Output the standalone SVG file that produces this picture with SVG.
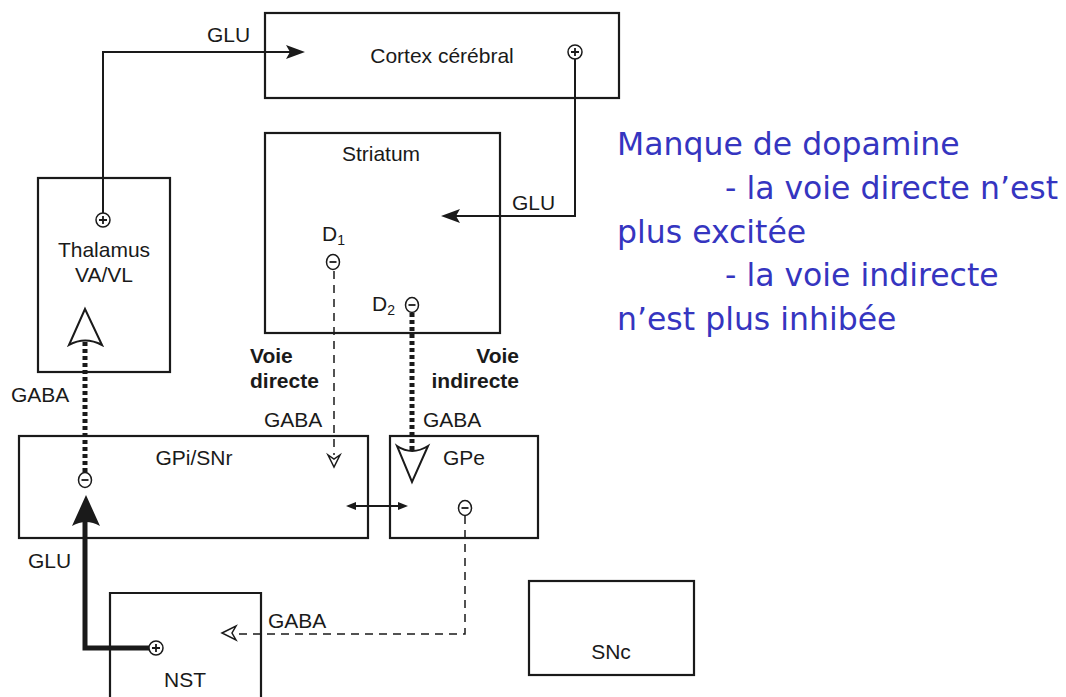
<svg xmlns="http://www.w3.org/2000/svg" width="1066" height="697" viewBox="0 0 1066 697">
<style>
.box{fill:none;stroke:#1a1a1a;stroke-width:2.2}
.lbl{font-family:"Liberation Sans",Arial,sans-serif;font-size:21px;fill:#1a1a1a}
.b{font-weight:bold}
.sub{font-size:14px}
.sym{fill:#fff;stroke:#1a1a1a;stroke-width:1.5}
.sg{stroke:#1a1a1a;stroke-width:1.8;fill:none}
.ln{fill:none;stroke:#1a1a1a;stroke-width:2}
.thin{fill:none;stroke:#1a1a1a;stroke-width:1.5;stroke-dasharray:8 6}
.thick{fill:none;stroke:#1a1a1a;stroke-width:5;stroke-dasharray:4 3}
.blue{font-family:"DejaVu Sans",Verdana,sans-serif;font-size:31.5px;fill:#3535c0}
</style>
<defs>
<g id="plus"><circle r="7" class="sym"/><path d="M-4,0H4M0,-4V4" class="sg"/></g>
<g id="minus"><ellipse rx="6.5" ry="7.5" class="sym"/><path d="M-3.5,0H3.5" class="sg" stroke-width="2.2"/></g>
</defs>
<rect width="1066" height="697" fill="#fff"/>

<g id="connectors">
  <!-- Thalamus -> Cortex GLU -->
  <path class="ln" d="M103,213V52H290"/>
  <polygon points="305,52 286,45 290,52 286,59" fill="#1a1a1a"/>
  <text class="lbl" x="207" y="42">GLU</text>
  <!-- Cortex -> Striatum GLU -->
  <path class="ln" d="M575,59V216H456"/>
  <polygon points="441,216 460,209 456,216 460,223" fill="#1a1a1a"/>
  <text class="lbl" x="512" y="210">GLU</text>
  <!-- direct pathway -->
  <path class="thin" d="M334,271V455"/>
  <path d="M328,455 L334,467 L340,455 L334,459 Z" class="sym"/>
  <text class="lbl b" x="250" y="363">Voie</text>
  <text class="lbl b" x="250" y="388">directe</text>
  <text class="lbl" x="264" y="427">GABA</text>
  <!-- indirect pathway -->
  <path class="thick" d="M412,313V450"/>
  <path d="M397,446 Q412,456 428,446 L412,482 Z" fill="#fff" stroke="#1a1a1a" stroke-width="2"/>
  <text class="lbl b" x="519" y="363" text-anchor="end">Voie</text>
  <text class="lbl b" x="519" y="388" text-anchor="end">indirecte</text>
  <text class="lbl" x="423" y="427">GABA</text>
  <!-- GPi -> Thalamus GABA -->
  <path class="thick" d="M85,472V340"/>
  <path d="M85,309 L102,345 Q85,336 69,345 Z" fill="#fff" stroke="#1a1a1a" stroke-width="2"/>
  <text class="lbl" x="11" y="402">GABA</text>
  <!-- NST -> GPi GLU -->
  <path d="M149,648H85V520" fill="none" stroke="#1a1a1a" stroke-width="5"/>
  <path d="M86,495 L100,526 Q86,518 72,526 Z" fill="#1a1a1a"/>
  <text class="lbl" x="28" y="568">GLU</text>
  <!-- GPi <-> GPe -->
  <path class="ln" d="M354,506H401" stroke-width="1.5"/>
  <polygon points="346,506 356,502 356,510" fill="#1a1a1a"/>
  <polygon points="408,506 398,502 398,510" fill="#1a1a1a"/>
  <!-- GPe -> NST GABA -->
  <path class="thin" d="M465,516V634H232"/>
  <path d="M222,633 L236,626 L232,633 L236,640 Z" class="sym"/>
  <text class="lbl" x="268" y="628">GABA</text>
</g>

<g id="cortex">
  <rect class="box" x="265" y="13" width="354" height="85"/>
  <text class="lbl" x="442" y="63" text-anchor="middle">Cortex cérébral</text>
  <use href="#plus" x="575" y="52"/>
</g>

<g id="striatum">
  <rect class="box" x="265" y="133" width="235" height="200"/>
  <text class="lbl" x="381" y="161" text-anchor="middle">Striatum</text>
  <text class="lbl" x="322" y="241">D<tspan class="sub" dy="4">1</tspan></text>
  <use href="#minus" x="333" y="262"/>
  <text class="lbl" x="372" y="311">D<tspan class="sub" dy="4">2</tspan></text>
  <use href="#minus" x="412" y="305"/>
</g>

<g id="thalamus">
  <rect class="box" x="38" y="178" width="132" height="194"/>
  <use href="#plus" x="103" y="220"/>
  <text class="lbl" x="104" y="257" text-anchor="middle">Thalamus</text>
  <text class="lbl" x="104" y="282" text-anchor="middle">VA/VL</text>
</g>

<g id="gpi">
  <rect class="box" x="19" y="436" width="349" height="102"/>
  <text class="lbl" x="194" y="465" text-anchor="middle">GPi/SNr</text>
  <use href="#minus" x="85" y="480"/>
</g>

<g id="gpe">
  <rect class="box" x="390" y="436" width="148" height="102"/>
  <text class="lbl" x="443" y="465">GPe</text>
  <use href="#minus" x="465" y="508"/>
</g>

<g id="nst">
  <path class="box" d="M110,697V593H261V697"/>
  <use href="#plus" x="156" y="648"/>
  <text class="lbl" x="185" y="687" text-anchor="middle">NST</text>
</g>

<g id="snc">
  <rect class="box" x="529" y="581" width="165" height="94"/>
  <text class="lbl" x="611" y="659" text-anchor="middle">SNc</text>
</g>

<g id="note">
  <text class="blue" x="617" y="155">Manque de dopamine</text>
  <text class="blue" x="725" y="199">- la voie directe n’est</text>
  <text class="blue" x="617" y="243">plus excitée</text>
  <text class="blue" x="725" y="286">- la voie indirecte</text>
  <text class="blue" x="617" y="330">n’est plus inhibée</text>
</g>
</svg>
